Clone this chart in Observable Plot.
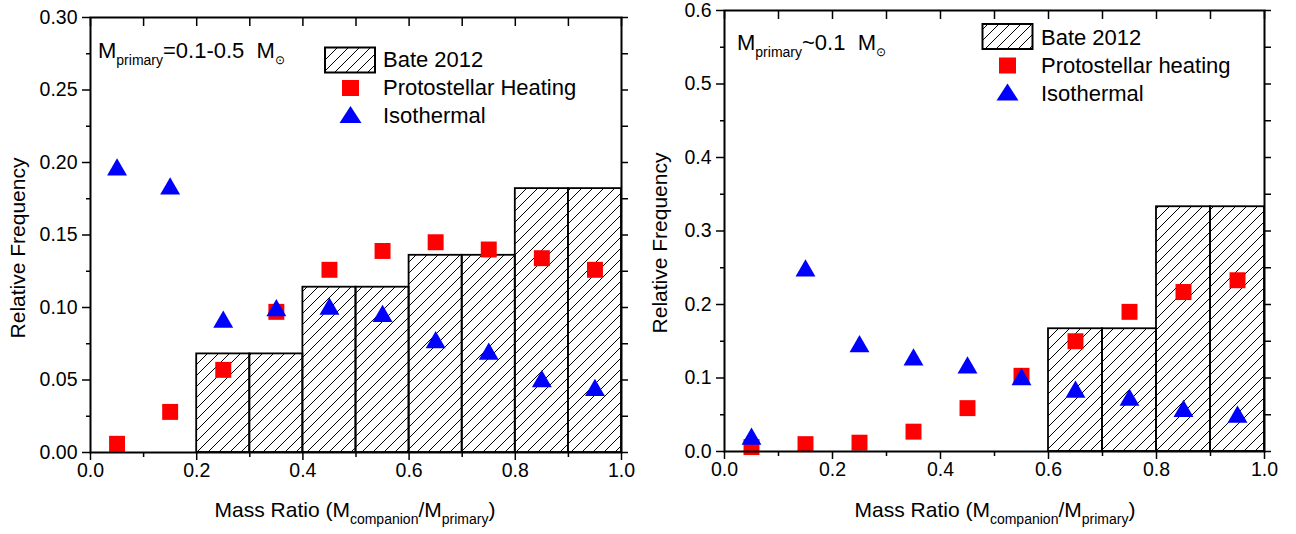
<!DOCTYPE html>
<html><head><meta charset="utf-8">
<script src="https://cdn.jsdelivr.net/npm/d3@7"></script>
<script src="https://cdn.jsdelivr.net/npm/@observablehq/plot@0.6"></script>
<style>
body{margin:0;background:#fff;font-family:"Liberation Sans",Arial,sans-serif;}
#wrap{position:relative;width:1296px;height:534px;overflow:hidden;}
#p1{position:absolute;left:0;top:0;}
#p2{position:absolute;left:650px;top:0;}
#overlay{position:absolute;left:0;top:0;pointer-events:none;}
</style></head><body>
<svg width="0" height="0" style="position:absolute"><defs>
<pattern id="hatch" patternUnits="userSpaceOnUse" width="11" height="11">
<path d="M-1,1 L1,-1 M0,11 L11,0 M10,12 L12,10" stroke="#000" stroke-width="1"/>
</pattern></defs></svg>
<div id="wrap"><div id="p1"></div><div id="p2"></div>
<svg id="overlay" width="1296" height="534" font-family="Liberation Sans, Arial, sans-serif"></svg></div>
<script>
// ---- data ----
const massRatio = [0.05, 0.15, 0.25, 0.35, 0.45, 0.55, 0.65, 0.75, 0.85, 0.95];
const binStart  = [0.0, 0.1, 0.2, 0.3, 0.4, 0.5, 0.6, 0.7, 0.8, 0.9];
const binEnd    = [0.1, 0.2, 0.3, 0.4, 0.5, 0.6, 0.7, 0.8, 0.9, 1.0];

// left panel: M_primary = 0.1-0.5 Msun
const leftBate    = [0, 0, 0.068, 0.068, 0.114, 0.114, 0.136, 0.136, 0.182, 0.182];
const leftHeating = [0.006, 0.028, 0.057, 0.097, 0.126, 0.139, 0.145, 0.140, 0.134, 0.126];
const leftIso     = [0.197, 0.184, 0.092, 0.100, 0.101, 0.096, 0.078, 0.070, 0.051, 0.045];

// right panel: M_primary ~ 0.1 Msun
const rightBate    = [0, 0, 0, 0, 0, 0, 0.167, 0.167, 0.333, 0.333];
const rightHeating = [0.006, 0.010, 0.012, 0.027, 0.059, 0.103, 0.150, 0.190, 0.217, 0.233];
const rightIso     = [0.021, 0.250, 0.147, 0.129, 0.118, 0.102, 0.085, 0.074, 0.059, 0.051];

// ticks
const xMajor = [0, 0.2, 0.4, 0.6, 0.8, 1.0];
const xMinor = [0.1, 0.3, 0.5, 0.7, 0.9];
const xTop   = [0, 0.1, 0.2, 0.3, 0.4, 0.5, 0.6, 0.7, 0.8, 0.9, 1.0];
const leftYMajor  = [0, 0.05, 0.10, 0.15, 0.20, 0.25, 0.30];
const leftYMinor  = [0.025, 0.075, 0.125, 0.175, 0.225, 0.275];
const rightYMajor = [0, 0.1, 0.2, 0.3, 0.4, 0.5, 0.6];
const rightYMinor = [0.05, 0.15, 0.25, 0.35, 0.45, 0.55];

function panel({bate, heating, iso, yMax, yMajor, yMinor, yDigits, width, marginLeft, marginRight, marginTop, marginBottom}) {
  const bars = bate.map((v, i) => ({x1: binStart[i], x2: binEnd[i], v})).filter(d => d.v > 0);
  const pts = massRatio.map((x, i) => ({x, heat: heating[i], iso: iso[i]}));
  const allY = [...yMajor, ...yMinor];
  return Plot.plot({
    width, height: 534, marginLeft, marginRight, marginTop, marginBottom,
    x: {domain: [0, 1]},
    y: {domain: [0, yMax]},
    style: {fontFamily: "Liberation Sans, Arial, sans-serif", fontSize: "19.5px", color: "#000", background: "transparent", overflow: "visible"},
    marks: [
      Plot.rect(bars, {x1: "x1", x2: "x2", y1: 0, y2: "v", fill: "url(#hatch)", stroke: "#000", strokeWidth: 1.8}),
      Plot.dot(pts, {x: "x", y: "heat", symbol: "square", r: 9, fill: "#ff0000"}),
      Plot.dot(pts, {x: "x", y: "iso", symbol: "triangle", r: 7.4, fill: "#0000ff", dy: 3}),
      Plot.frame({stroke: "#000", strokeWidth: 2}),
      Plot.axisY(yMajor, {tickSize: 8, tickPadding: 5, strokeWidth: 1.5, tickFormat: d => d.toFixed(yDigits), label: null}),
      Plot.axisY(yMinor, {tickSize: 4, strokeWidth: 1.5, text: null, label: null}),
      Plot.axisY(allY, {anchor: "right", tickSize: 6, strokeWidth: 1.5, text: null, label: null}),
      Plot.axisX(xMajor, {tickSize: 8, tickPadding: 3, strokeWidth: 1.5, tickFormat: d => d.toFixed(1), label: null}),
      Plot.axisX(xMinor, {tickSize: 5, strokeWidth: 1.5, text: null, label: null}),
      Plot.axisX(xTop, {anchor: "top", tickSize: 8, dy: 8, strokeWidth: 1.5, text: null, label: null})
    ]
  });
}

document.getElementById("p1").append(panel({
  bate: leftBate, heating: leftHeating, iso: leftIso, yMax: 0.30, yMajor: leftYMajor, yMinor: leftYMinor, yDigits: 2,
  width: 650, marginLeft: 90, marginRight: 29, marginTop: 17, marginBottom: 82
}));
document.getElementById("p2").append(panel({
  bate: rightBate, heating: rightHeating, iso: rightIso, yMax: 0.6, yMajor: rightYMajor, yMinor: rightYMinor, yDigits: 1,
  width: 646, marginLeft: 74, marginRight: 32, marginTop: 10, marginBottom: 83
}));

// ---- overlay: legends, annotations, axis labels ----
const NS = "http://www.w3.org/2000/svg";
const ov = document.getElementById("overlay");
function el(tag, attrs, parent = ov) {
  const e = document.createElementNS(NS, tag);
  for (const k in attrs) e.setAttribute(k, attrs[k]);
  parent.appendChild(e);
  return e;
}
function txt(x, y, parts, attrs = {}) {
  const t = el("text", {x, y, "font-size": 22, fill: "#000", ...attrs});
  for (const [s, size, dy] of parts) {
    const ts = el("tspan", {"font-size": size, dy: dy || 0}, t);
    ts.textContent = s;
  }
  return t;
}

const legendLabels = {
  left: ["Bate 2012", "Protostellar Heating", "Isothermal"],
  right: ["Bate 2012", "Protostellar heating", "Isothermal"]
};
function legend(bx, by, sx, tx, ty, labels) {
  el("rect", {x: bx, y: by, width: 50, height: 25, fill: "url(#hatch)", stroke: "#000", "stroke-width": 2});
  el("rect", {x: sx - 8.5, y: ty[1] - 15, width: 17, height: 16, fill: "#ff0000"});
  el("path", {d: `M${sx - 11},${ty[2]} L${sx + 11},${ty[2]} L${sx},${ty[2] - 17} Z`, fill: "#0000ff"});
  labels.forEach((s, i) => txt(tx, ty[i], [[s, 22]]));
}
legend(325, 47.5, 350.5, 383, [67, 95, 123], legendLabels.left);
legend(982.5, 24, 1007.5, 1041, [45, 72.5, 100.5], legendLabels.right);

// panel annotations
txt(98, 58, [["M", 22], ["primary", 14, 7], ["=0.1-0.5\u00a0\u00a0M", 22, -7], ["\u2299", 12, 6]]);
txt(737, 50, [["M", 22], ["primary", 14, 7], ["~0.1\u00a0\u00a0M", 22, -7], ["\u2299", 12, 6]]);

// axis titles
const xTitle = [["Mass Ratio (M", 21], ["companion", 14, 7], ["/M", 21, -7], ["primary", 14, 7], [")", 21, -7]];
txt(355, 517, xTitle, {"text-anchor": "middle"});
txt(995, 517, xTitle, {"text-anchor": "middle"});
txt(0, 0, [["Relative Frequency", 21]], {"text-anchor": "middle", transform: "translate(25,248) rotate(-90)"});
txt(0, 0, [["Relative Frequency", 21]], {"text-anchor": "middle", transform: "translate(667,243) rotate(-90)"});
</script>
</body></html>
